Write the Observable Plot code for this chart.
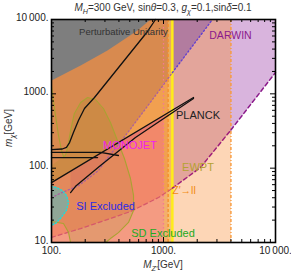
<!DOCTYPE html>
<html><head><meta charset="utf-8">
<script src="https://cdn.jsdelivr.net/npm/d3@7"></script>
<script src="https://cdn.jsdelivr.net/npm/@observablehq/plot@0.6"></script>
<style>html,body{margin:0;padding:0;background:#fff} svg{display:block}</style>
</head><body><div id="chart"></div>
<script>
// ---------- data (GeV) ----------
const mzRange = [100, 10000];
const mxRange = [10, 10000];
const limitNames = ["MONOJET", "Z'→ll edge", "Z'→ll", "EWPT"];
const limitMZ = [1000, 1100, 1200, 4000];

const unitarityMZ = [100, 182, 316, 586, 766];
const unitarityMX = [1511, 2406, 3828, 7112, 10000];

const lzMZ = [100, 120, 174, 263, 304, 458, 849, 1203, 2738];
const lzMX = [40, 46, 58, 93, 127, 275, 951, 1937, 10000];

const darwinMZ = [100, 113, 182, 336, 507, 903, 1155, 2138, 3963, 10000];
const darwinMX = [11.7, 12.4, 15.4, 21, 26.1, 40.3, 51.6, 102, 321, 1937];

const planckSteepMZ = [100, 125, 136, 145, 157, 174, 197, 242, 720, 849];
const planckSteepMX = [178, 181, 190, 221, 302, 437, 635, 893, 6900, 10000];
const planckUpperMZ = [100, 1854];
const planckUpperMX = [64, 893];
const planckLowerMZ = [148, 164, 274, 413, 562, 1854];
const planckLowerMX = [47, 57, 109, 178, 259, 865];
const planckFlat1MZ = [100, 274, 396];
const planckFlat1MX = [163, 163, 148];
const planckFlat2MZ = [100, 258];
const planckFlat2MX = [139, 139];

const sdBranchMZ = [100, 104, 108.6, 115.5, 122.8, 128];
const sdBranchMX = [1294, 813, 511, 275, 173, 143.5];
const sdLoopMZ = [128, 133, 139, 148, 160, 182, 210, 247, 291, 336, 388, 448, 507, 540, 540, 487, 396, 336, 304];
const sdLoopMX = [143.5, 148, 184, 321, 544, 764, 893, 839, 635, 411, 236, 135, 72.6, 43, 27, 18.6, 13.6, 11.3, 10];
const sdCornerMZ = [148, 142, 128, 100];
const sdCornerMX = [10, 13.6, 18, 19.2];
const sdLeftEdgeMX = 109;

const siMZ = [100, 110.8, 125, 136, 142, 136, 120, 108.6, 100];
const siMX = [57, 55, 50, 43, 34.5, 27, 21, 18, 17];

const labelText = ["Perturbative Unitarity", "DARWIN", "PLANCK", "MONOJET", "EWPT", "Z′→ll", "SI Excluded", "SD Excluded"];
const labelMZ = [439, 3963, 2032, 502, 2032, 1524, 304, 990];
const labelMX = [6900, 6095, 511, 202, 102, 50, 30.5, 13.2];

const xTickMajor = [100, 1000, 10000];
const yTickMajor = [10, 100, 1000, 10000];
const tickLabel = d => (d >= 10000 ? "10\u2009000" : String(d)) + ".";

// ---------- styles ----------
const labelStyle = {
  "Perturbative Unitarity": ["#333", 9.5], "DARWIN": ["#8b1a8b", 10.5], "PLANCK": ["#222", 11],
  "MONOJET": ["#f020f0", 11], "EWPT": ["#b4a232", 11], "Z′→ll": ["#f28a10", 10.5],
  "SI Excluded": ["#2a2ae6", 11], "SD Excluded": ["#22aa22", 11]
};

// ---------- helpers ----------
const [MONO, BAND, ZLL, EWPT] = limitMZ;
const [xL, xR] = mzRange, [yB, yT] = mxRange;
const logI = (xs, ys, x) => {
  const lx = Math.log(x);
  for (let i = 0; i < xs.length - 1; i++) {
    if (x >= xs[i] && x <= xs[i + 1]) {
      const t = (lx - Math.log(xs[i])) / (Math.log(xs[i + 1]) - Math.log(xs[i]));
      return Math.exp(Math.log(ys[i]) + t * (Math.log(ys[i + 1]) - Math.log(ys[i])));
    }
  }
  return x < xs[0] ? ys[0] : ys[ys.length - 1];
};
const pts = (xs, ys) => xs.map((x, i) => ({x, y: ys[i]}));
const clip = (xs, ys, a, b) => {
  const out = [{x: a, y: logI(xs, ys, a)}];
  xs.forEach((x, i) => { if (x > a && x < b) out.push({x, y: ys[i]}); });
  out.push({x: b, y: logI(xs, ys, b)});
  return out;
};
const box = (a, b) => [{x: a, y: yB}, {x: b, y: yB}, {x: b, y: yT}, {x: a, y: yT}];
const poly = (p, fill, o = {}) => Plot.line(p, {x: "x", y: "y", fill, stroke: "none", curve: "linear", ...o});
const path = (p, stroke, o = {}) => Plot.line(p, {x: "x", y: "y", stroke, fill: "none", strokeWidth: 1.3, curve: "linear", ...o});

// regions
const lzLeft = clip(lzMZ, lzMX, xL, ZLL);
const lzRight = clip(lzMZ, lzMX, ZLL, lzMZ[lzMZ.length - 1]);
const darLeft = clip(darwinMZ, darwinMX, xL, ZLL);
const darMid = clip(darwinMZ, darwinMX, ZLL, EWPT);
const darRight = clip(darwinMZ, darwinMX, EWPT, xR);
const upperCoral = clip(planckUpperMZ, planckUpperMX, xL, MONO);
const upperWedge = clip(planckUpperMZ, planckUpperMX, planckLowerMZ[0], planckLowerMZ[planckLowerMZ.length - 1]);

const darkOrange = [...lzLeft, {x: ZLL, y: yT}, {x: xL, y: yT}];
const coral = [...upperCoral, {x: MONO, y: yB}, {x: xL, y: yB}];
const wedge = [...upperWedge, ...pts(planckLowerMZ, planckLowerMX).reverse()];
const lighten = [...darLeft, {x: ZLL, y: yB}, {x: xL, y: yB}];
const gray = [...pts(unitarityMZ, unitarityMX), {x: xL, y: yT}];
const pink = [...darMid, {x: EWPT, y: yT}, {x: ZLL, y: yT}];
const lilac = [...darRight, {x: xR, y: yT}, {x: EWPT, y: yT}];
const mauve = [...lzRight, {x: ZLL, y: yT}];
const sdFill = [...pts(sdLoopMZ, sdLoopMX), ...pts(sdCornerMZ, sdCornerMX), {x: xL, y: sdLeftEdgeMX}];
const sdLine = [...pts(sdBranchMZ, sdBranchMX), ...pts(sdLoopMZ, sdLoopMX).slice(1)];

const fw = 291 - 51 - 16, fh = 271 - 19 - 29;
const minor = (decs) => decs.flatMap(d => [2, 3, 4, 5, 6, 7, 8, 9].map(k => k * d));
const xMinor = minor([100, 1000]);
const yMinor = minor([10, 100, 1000]);
const K = "#111";

const chart = Plot.plot({
  width: 291, height: 271,
  marginLeft: 51, marginRight: 16, marginTop: 19, marginBottom: 29,
  x: {type: "log", domain: mzRange, axis: null},
  y: {type: "log", domain: mxRange, axis: null},
  style: {fontFamily: "Liberation Sans, Arial, sans-serif", background: "#fff", overflow: "visible"},
  marks: [
    // left block
    poly(box(xL, ZLL), "#f1a050"),
    poly(darkOrange, "#d88a4f"),
    poly(coral, "#f2886a"),
    poly(wedge, "rgba(205,60,110,0.18)"),
    poly(lighten, "rgba(255,255,255,0.16)"),
    poly(gray, "#7e7e7e"),
    poly(sdFill, "rgba(150,140,20,0.16)"),
    poly(pts(siMZ, siMX), "#8fa697"),
    poly(box(BAND, ZLL), "rgba(255,228,120,0.38)"),
    // right block
    poly(box(ZLL, EWPT), "#fdd6b6"),
    poly(pink, "#e3a59b"),
    poly(lilac, "#d9b4dd"),
    poly(mauve, "#b27c9f"),
    // limit lines
    Plot.ruleX([MONO], {x: d => d, stroke: "#f27a92", strokeWidth: 1.3, strokeDasharray: "1.5,2.5"}),
    Plot.ruleX([BAND], {x: d => d, stroke: "#f7902a", strokeWidth: 1.4, strokeDasharray: "3,2"}),
    Plot.ruleX([EWPT], {x: d => d, stroke: "#f89a3a", strokeWidth: 1.4, strokeDasharray: "3,2,1,2"}),
    Plot.ruleX([ZLL], {x: d => d, stroke: "#ffec1a", strokeWidth: 2.5}),
    // dashed / dotted sensitivity curves
    path(lzLeft, "#a9609e", {strokeDasharray: "1.3,2.4", strokeWidth: 1.3}),
    path(lzRight, "#6240d0", {strokeDasharray: "1.3,2.4", strokeWidth: 1.4}),
    path(darLeft, "#d6586a", {strokeDasharray: "4,3", strokeWidth: 1.2}),
    path(darMid, "#a0207a", {strokeDasharray: "4,3", strokeWidth: 1.5}),
    path(darRight, "#8b1a8b", {strokeDasharray: "4,3", strokeWidth: 1.5}),
    // SD contour and SI region border
    path(sdLine, "#aaa232", {strokeWidth: 1.1}),
    path(pts(sdCornerMZ, sdCornerMX), "#aaa232", {strokeWidth: 1.1}),
    path(pts(siMZ, siMX), "#14e0e0", {strokeDasharray: "1.3,2", strokeWidth: 1.3}),
    // relic density curves
    path(pts(planckSteepMZ, planckSteepMX), K),
    path(pts(planckFlat1MZ, planckFlat1MX), K),
    path(pts(planckFlat2MZ, planckFlat2MX), K),
    path(pts(planckUpperMZ, planckUpperMX), K),
    path(pts(planckLowerMZ, planckLowerMX), K),
    // labels
    Plot.text(labelText, {
      x: (d, i) => labelMZ[i], y: (d, i) => labelMX[i], text: d => d,
      fill: d => labelStyle[d][0], fontSize: 10.5
    }),
    // ticks
    Plot.ruleX(xTickMajor, {x: d => d, insetTop: fh - 5, stroke: "#000"}),
    Plot.ruleX(xTickMajor, {x: d => d, insetBottom: fh - 5, stroke: "#000"}),
    Plot.ruleX(xMinor, {x: d => d, insetTop: fh - 3, stroke: "#000"}),
    Plot.ruleX(xMinor, {x: d => d, insetBottom: fh - 3, stroke: "#000"}),
    Plot.ruleY(yTickMajor, {y: d => d, insetRight: fw - 5, stroke: "#000"}),
    Plot.ruleY(yTickMajor, {y: d => d, insetLeft: fw - 5, stroke: "#000"}),
    Plot.ruleY(yMinor, {y: d => d, insetRight: fw - 3, stroke: "#000"}),
    Plot.ruleY(yMinor, {y: d => d, insetLeft: fw - 3, stroke: "#000"}),
    Plot.frame({stroke: "#000", strokeWidth: 1.6}),
    Plot.text(xTickMajor, {x: d => d, frameAnchor: "bottom", dy: 11, text: tickLabel, fill: "#222", fontSize: 10}),
    Plot.text(yTickMajor, {y: d => d, frameAnchor: "left", dx: -3, dy: -2, textAnchor: "end", text: tickLabel, fill: "#222", fontSize: 10})
  ]
});
document.getElementById("chart").appendChild(chart);

// per-label font sizes
d3.select(chart).selectAll("text").each(function () {
  const t = this.textContent;
  if (labelStyle[t]) this.setAttribute("font-size", labelStyle[t][1]);
});

// rich text (title, axis titles)
function rich(sel, parts) {
  let shifted = false;
  parts.forEach(([s, kind]) => {
    const ts = sel.append("tspan").text(s);
    let dy = 0;
    if (kind.includes("sub")) { if (!shifted) { dy = 2.5; shifted = true; } ts.attr("font-size", "0.72em"); }
    else if (shifted) { dy = -2.5; shifted = false; }
    if (dy) ts.attr("dy", dy);
    if (kind.includes("i")) ts.attr("font-style", "italic");
  });
}
const svg = d3.select(chart);
rich(svg.append("text").attr("x", 163).attr("y", 11).attr("text-anchor", "middle").attr("font-size", 10).attr("fill", "#333"),
  [["M", "i"], ["H", "isub"], ["=300 GeV, sin", ""], ["θ", "i"], ["=0.3, ", ""], ["g", "i"], ["χ", "isub"], ["=0.1,sin", ""], ["δ", "i"], ["=0.1", ""]]);
rich(svg.append("text").attr("transform", "translate(12,128) rotate(-90)").attr("text-anchor", "middle").attr("font-size", 10).attr("fill", "#333"),
  [["m", "i"], ["χ", "isub"], ["[GeV]", ""]]);
rich(svg.append("text").attr("x", 163).attr("y", 268).attr("text-anchor", "middle").attr("font-size", 10).attr("fill", "#333"),
  [["M", "i"], ["Z′", "isub"], ["[GeV]", ""]]);
</script></body></html>
